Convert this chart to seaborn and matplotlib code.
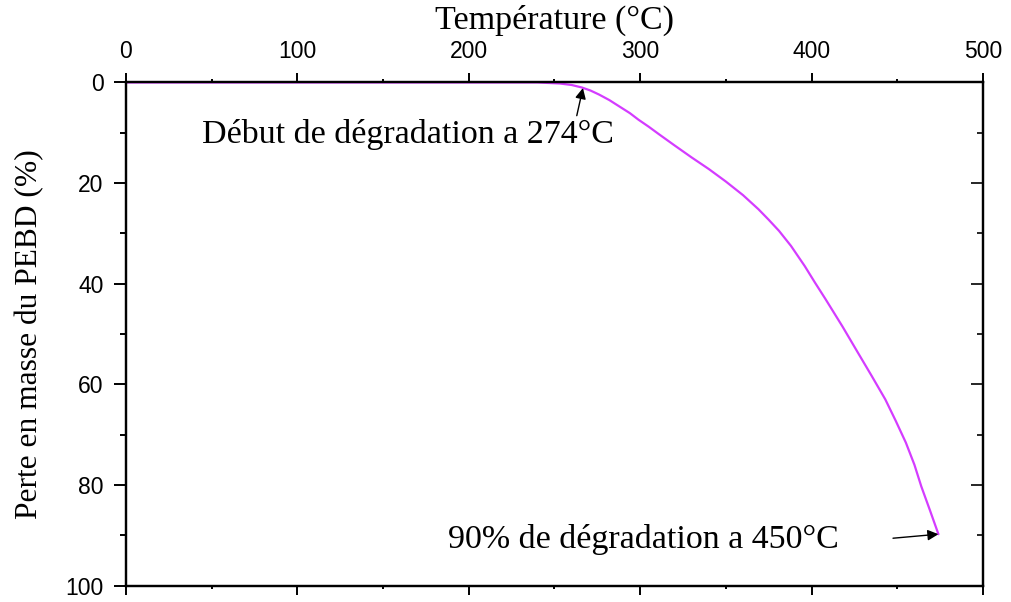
import matplotlib
matplotlib.use("Agg")
import matplotlib.pyplot as plt
import seaborn as sns
import pandas as pd
from matplotlib.ticker import MultipleLocator

# Data
temperature = [0, 50, 100, 150, 200, 240, 253, 260, 266, 271, 276, 282, 288, 294,
               299, 305, 311, 320, 330, 340, 350, 360, 369, 375, 381, 388, 396,
               402, 408, 418, 427, 435, 443, 449, 455, 460, 464, 469, 474]
mass_loss = [0, 0, 0, 0, 0, 0, 0.2, 0.5, 1.0, 1.6, 2.4, 3.5, 4.8, 6.1,
             7.4, 8.8, 10.3, 12.5, 14.9, 17.2, 19.7, 22.4, 25.2, 27.3, 29.5, 32.5, 36.5,
             39.8, 43.0, 48.5, 53.7, 58.3, 63.0, 67.2, 71.6, 76.0, 80.3, 85.0, 89.8]

x_label = "Température (°C)"
y_label = "Perte en masse du PEBD (%)"
annot1 = "Début de dégradation a 274°C"
annot2 = "90% de dégradation a 450°C"

df = pd.DataFrame({"T": temperature, "loss": mass_loss})

sns.set_style("ticks")
plt.rcParams["font.family"] = ["Liberation Sans", "DejaVu Sans"]
plt.rcParams["text.color"] = "black"

fig = plt.figure(figsize=(10.11, 6.02), dpi=100)
ax = fig.add_axes([0.1246, 0.0274, 0.8477, 0.8356])

sns.lineplot(data=df, x="T", y="loss", ax=ax, color="#d43cff", linewidth=1.6)

ax.set_xlim(0, 500)
ax.set_ylim(100, 0)

ax.xaxis.set_major_locator(MultipleLocator(100))
ax.xaxis.set_minor_locator(MultipleLocator(50))
ax.yaxis.set_major_locator(MultipleLocator(20))
ax.yaxis.set_minor_locator(MultipleLocator(10))

ax.xaxis.set_label_position("top")
ax.tick_params(axis="x", which="both", top=True, bottom=True, labeltop=True,
               labelbottom=False, direction="out", width=1.4, labelsize=16.5,
               pad=7, colors="black")
ax.tick_params(axis="x", which="major", length=6.8)
ax.tick_params(axis="x", which="minor", length=2.5)
ax.tick_params(axis="y", which="both", left=True, right=False, direction="out",
               width=1.4, labelsize=16.5, pad=7, colors="black")
ax.tick_params(axis="y", which="major", length=9)
ax.tick_params(axis="y", which="minor", length=4)

ax2 = ax.twinx()
ax2.set_ylim(100, 0)
ax2.yaxis.set_major_locator(MultipleLocator(20))
ax2.yaxis.set_minor_locator(MultipleLocator(10))
ax2.tick_params(axis="y", which="both", right=True, labelright=False,
                direction="in", width=1.4)
ax2.tick_params(axis="y", which="major", length=9)
ax2.tick_params(axis="y", which="minor", length=4)

for a in (ax, ax2):
    for s in a.spines.values():
        s.set_visible(True)
        s.set_linewidth(1.6)
        s.set_color("black")

serif = ["Liberation Serif", "DejaVu Serif"]
ax.set_xlabel(x_label, family=serif, fontsize=24.5, labelpad=8, color="black")
ax.set_ylabel(y_label, family=serif, fontsize=22.7, labelpad=15, color="black")

arrow = dict(arrowstyle="-|>", color="black", lw=1.0, mutation_scale=16,
             shrinkA=0, shrinkB=0)
ax.annotate("", xy=(266.6, 1.1), xytext=(263.0, 6.6), arrowprops=arrow)
ax.text(44.3, 12.0, annot1, family=serif, fontsize=24.5, ha="left",
        va="baseline", color="black")
ax.annotate("", xy=(474, 89.8), xytext=(447.5, 90.6), arrowprops=arrow)
ax.text(187.9, 92.6, annot2, family=serif, fontsize=24.5, ha="left",
        va="baseline", color="black")

fig.savefig("out.png", dpi=100)
